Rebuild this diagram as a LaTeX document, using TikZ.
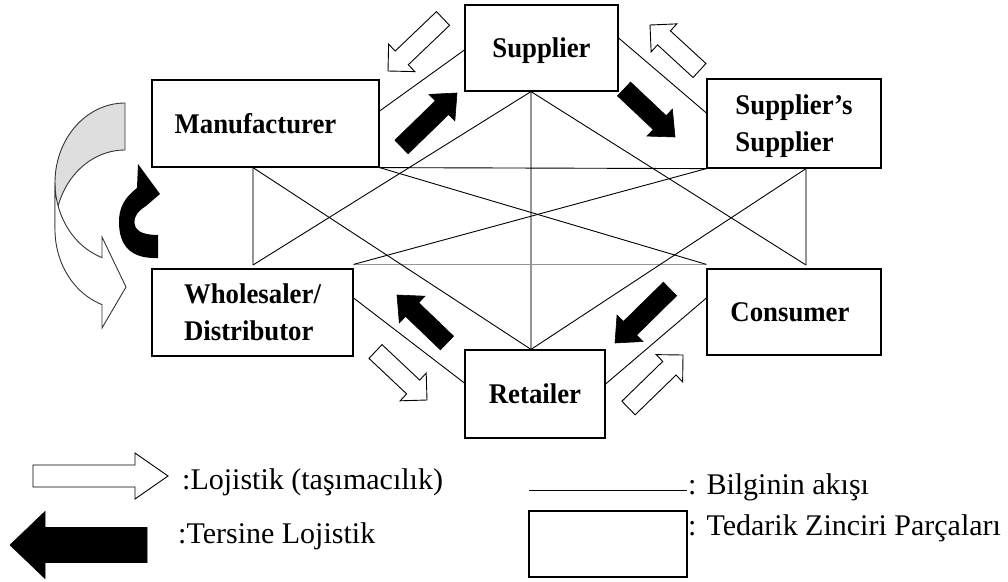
\documentclass[tikz,border=0pt]{standalone}
\usepackage{fontspec}
\setmainfont{Liberation Serif}
\newfontfamily\partfont{Liberation Serif}[FakeStretch=0.94]
\usetikzlibrary{calc}

% straight block arrow: style, tail, tip, shaft half width, head half width, head length
\newcommand{\flowarrow}[6]{%
  \coordinate (fa-t) at #2;
  \coordinate (fa-p) at #3;
  \coordinate (fa-n) at ($(fa-p)!#6!(fa-t)$);
  \draw[#1] ($(fa-t)!#4!90:(fa-p)$) -- ($(fa-n)!#4!90:(fa-p)$)
    -- ($(fa-n)!#5!90:(fa-p)$) -- (fa-p) -- ($(fa-n)!#5!-90:(fa-p)$)
    -- ($(fa-n)!#4!-90:(fa-p)$) -- ($(fa-t)!#4!-90:(fa-p)$) -- cycle;
}

\tikzset{
  part/.style={draw=black, line width=1.2pt, fill=white, inner sep=0pt,
    text depth=0pt, font=\partfont\fontsize{28.5}{37}\selectfont\bfseries},
  info/.style={draw=black, line width=0.9pt},
  infogray/.style={draw=black!42, line width=1.4pt},
  reverse/.style={fill=black, draw=black, line width=0.6pt, line join=miter},
  forward/.style={fill=white, draw=black, line width=0.9pt, line join=miter},
  backband/.style={fill=black!13, draw=black!80, line width=0.9pt},
  frontband/.style={fill=white, draw=black!80, line width=0.9pt},
  legendtext/.style={anchor=base west, inner sep=0pt, font=\fontsize{30}{36}\selectfont},
}

\begin{document}
\begin{tikzpicture}[x=1pt, y=-1pt]
\useasboundingbox (0,0) rectangle (1008,581);

% curved logistics loop on the left (back part shaded, front part white)
\draw[backband]
  plot[domain=90:180, samples=40, variable=\t] ({125+70*cos(\t)},{182.5-79.5*sin(\t)})
  -- plot[domain=180:90, samples=40, variable=\t] ({125+70*cos(\t)},{229.5-79.5*sin(\t)})
  -- cycle;
\draw[frontband]
  plot[domain=180:250.8, samples=40, variable=\t] ({125+70*cos(\t)},{182.5-79.5*sin(\t)})
  -- (102,237) -- (126,287) -- (102,328)
  -- plot[domain=250.8:180, samples=40, variable=\t] ({125+70*cos(\t)},{229.5-79.5*sin(\t)})
  -- cycle;

% curved reverse-logistics arrow
\fill[black] (158,258) .. controls (130,259) and (119,245) .. (119,222)
  .. controls (119,208) and (124,198) .. (137,188)
  -- (138,164) -- (160,194) -- (146,206)
  .. controls (136,212) and (132,220) .. (136,228)
  .. controls (139,233) and (148,235) .. (158,235) -- cycle;

% supply chain parts
\node[part, minimum width=153pt, minimum height=86pt] (sup) at (541.5,48) {Supplier};
\node[part, minimum width=227pt, minimum height=87pt] (man) at (265.5,123.5) {\hspace*{-20pt}Manufacturer};
\node[part, minimum width=174pt, minimum height=89pt, align=left] (ssup) at (794,123.5) {Supplier’s\\Supplier};
\node[part, minimum width=201pt, minimum height=87pt, align=left] (whol) at (252.5,312.5) {Wholesaler/\\Distributor};
\node[part, minimum width=174pt, minimum height=86pt] (cons) at (794,312) {\hspace*{-8pt}Consumer};
\node[part, minimum width=140pt, minimum height=88pt] (ret) at (535,394) {Retailer};

% corners of the information network
\coordinate (nA) at ([xshift=-12.5pt]man.south);
\coordinate (nB) at (man.south east);
\coordinate (nC) at (ssup.south west);
\coordinate (nD) at ([xshift=12pt]ssup.south);
\coordinate (nE) at (253,265);
\coordinate (nF) at ([yshift=4pt]whol.north east);
\coordinate (nG) at ([yshift=4pt]cons.north west);
\coordinate (nH) at (806,265);
\coordinate (nS) at ([xshift=-10.5pt]sup.south);
\coordinate (nR) at ([xshift=-4pt]ret.north);

% information flow
\draw[infogray] (nA) -- (nE);
\draw[infogray] (nD) -- (nH);
\draw[infogray] (nF) -- (nG);
\draw[infogray] (nS) -- (nR);
\draw[info] (nB) -- (nC);
\draw[info] (nS) -- (nE);
\draw[info] (nS) -- (nH);
\draw[info] (nA) -- (nR);
\draw[info] (nD) -- (nR);
\draw[info] (nB) -- (nG);
\draw[info] (nC) -- (nF);
\draw[info] ([yshift=12.5pt]man.east) -- ([yshift=-2pt]sup.west);
\draw[info] ([yshift=10pt]sup.east) -- ([yshift=10.5pt]ssup.west);
\draw[info] ([yshift=14.5pt]whol.east) -- ([yshift=11pt]ret.west);
\draw[info] ([yshift=10pt]ret.east) -- ([yshift=14pt]cons.west);

% reverse logistics
\flowarrow{reverse}{(401.5,147)}{(457,93)}{9.5pt}{18.5pt}{21pt}
\flowarrow{reverse}{(624,89)}{(675,137)}{9.5pt}{18.5pt}{21pt}
\flowarrow{reverse}{(670,289)}{(615,343)}{9.5pt}{18.5pt}{21pt}
\flowarrow{reverse}{(447,343)}{(397,295)}{9.5pt}{18.5pt}{21pt}

% logistics (transport)
\flowarrow{forward}{(443,18.5)}{(388,71)}{9.5pt}{19pt}{19pt}
\flowarrow{forward}{(699.5,70.5)}{(650,25)}{9.5pt}{19pt}{19pt}
\flowarrow{forward}{(375.5,351.5)}{(427,400)}{9.5pt}{19pt}{19pt}
\flowarrow{forward}{(628.5,408)}{(683,355)}{9.5pt}{19pt}{19pt}

% legend
\flowarrow{forward}{(33,476)}{(168,476)}{11pt}{23pt}{33pt}
\flowarrow{reverse}{(147,545)}{(10,545)}{17.5pt}{33.5pt}{35pt}
\node[legendtext] (lgLog) at (182,489) {:Lojistik (taşımacılık)};
\node[legendtext] (lgRev) at (178,543) {:Tersine Lojistik};
\coordinate (lgL1) at (529,490);
\coordinate (lgL2) at (687,490);
\draw[info] (lgL1) -- (lgL2);
\node[legendtext] (lgInfo) at (688,494) {: Bilginin akışı};
\node[draw=black, line width=1.2pt, minimum width=158pt, minimum height=66pt, inner sep=0pt] (lgBox) at (608,544) {};
\node[legendtext] (lgPart) at (688,535) {: Tedarik Zinciri Parçaları};
\end{tikzpicture}
\end{document}
